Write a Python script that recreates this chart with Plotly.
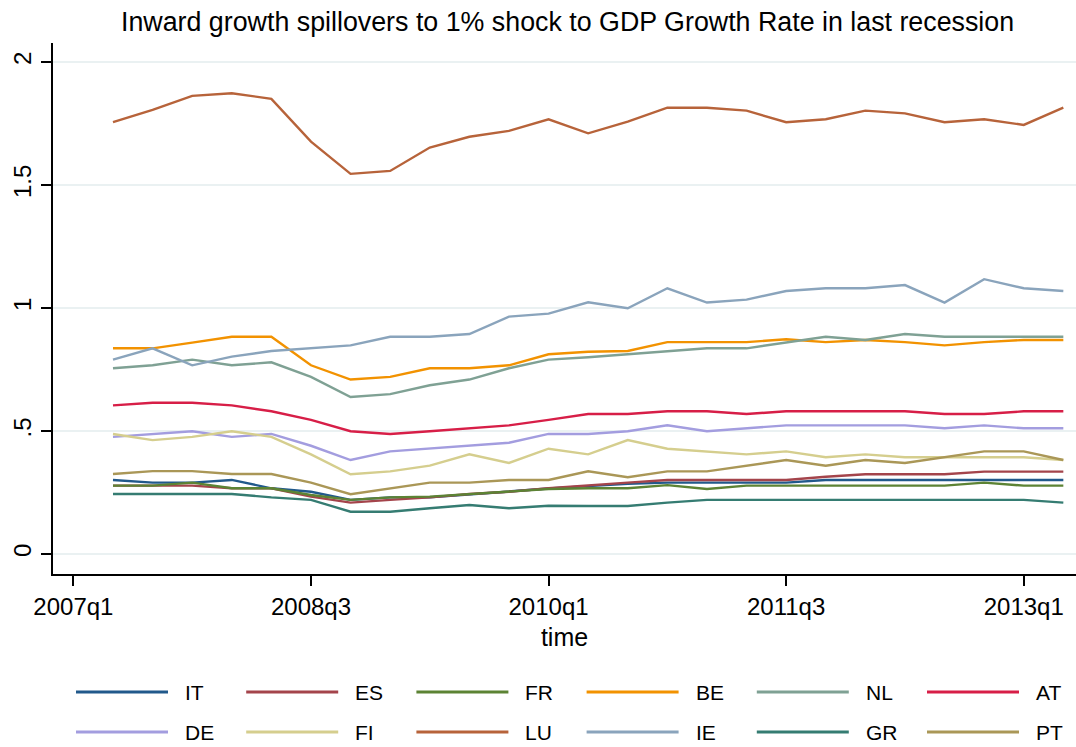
import plotly.graph_objects as go

# Quarter labels (2007q2 .. 2013q2)
quarters = ["2007q2", "2007q3", "2007q4", "2008q1", "2008q2", "2008q3", "2008q4",
            "2009q1", "2009q2", "2009q3", "2009q4", "2010q1", "2010q2", "2010q3",
            "2010q4", "2011q1", "2011q2", "2011q3", "2011q4", "2012q1", "2012q2",
            "2012q3", "2012q4", "2013q1", "2013q2"]

tick_labels = ["2007q1", "2008q3", "2010q1", "2011q3", "2013q1"]
y_ticks = [0, 0.5, 1, 1.5, 2]
y_tick_labels = ["0", ".5", "1", "1.5", "2"]

IT = [0.301, 0.290, 0.290, 0.301, 0.267, 0.253, 0.220, 0.230, 0.230, 0.243, 0.253, 0.266,
      0.276, 0.285, 0.290, 0.290, 0.290, 0.290, 0.301, 0.301, 0.301, 0.301, 0.301, 0.301, 0.301]
ES = [0.278, 0.278, 0.278, 0.267, 0.267, 0.233, 0.209, 0.220, 0.230, 0.244, 0.253, 0.267,
      0.280, 0.290, 0.301, 0.301, 0.301, 0.301, 0.314, 0.324, 0.324, 0.324, 0.335, 0.335, 0.335]
FR = [0.278, 0.278, 0.290, 0.267, 0.267, 0.240, 0.220, 0.230, 0.233, 0.244, 0.253, 0.264,
      0.267, 0.267, 0.280, 0.264, 0.278, 0.278, 0.278, 0.278, 0.278, 0.278, 0.290, 0.278, 0.278]
BE = [0.836, 0.836, 0.859, 0.883, 0.883, 0.767, 0.709, 0.720, 0.755, 0.755, 0.767, 0.812,
      0.822, 0.825, 0.861, 0.861, 0.861, 0.873, 0.861, 0.870, 0.861, 0.848, 0.861, 0.870, 0.870]
NL = [0.755, 0.767, 0.790, 0.767, 0.779, 0.720, 0.638, 0.650, 0.686, 0.709, 0.755, 0.790,
      0.800, 0.813, 0.825, 0.836, 0.836, 0.861, 0.883, 0.870, 0.894, 0.883, 0.883, 0.883, 0.883]
AT = [0.604, 0.615, 0.615, 0.604, 0.580, 0.545, 0.499, 0.488, 0.499, 0.511, 0.523, 0.545,
      0.569, 0.569, 0.580, 0.580, 0.569, 0.580, 0.580, 0.580, 0.580, 0.569, 0.569, 0.580, 0.580]
DE = [0.476, 0.488, 0.499, 0.476, 0.488, 0.440, 0.382, 0.417, 0.428, 0.440, 0.452, 0.488,
      0.488, 0.499, 0.523, 0.499, 0.511, 0.523, 0.523, 0.523, 0.523, 0.511, 0.523, 0.511, 0.511]
FI = [0.488, 0.463, 0.476, 0.499, 0.476, 0.405, 0.324, 0.336, 0.359, 0.405, 0.370, 0.428,
      0.405, 0.463, 0.428, 0.417, 0.405, 0.417, 0.393, 0.405, 0.393, 0.393, 0.393, 0.393, 0.382]
LU = [1.755, 1.805, 1.862, 1.873, 1.850, 1.676, 1.545, 1.557, 1.652, 1.696, 1.720, 1.767,
      1.710, 1.757, 1.814, 1.814, 1.802, 1.755, 1.767, 1.802, 1.791, 1.755, 1.767, 1.744, 1.814]
IE = [0.790, 0.836, 0.767, 0.802, 0.825, 0.836, 0.848, 0.883, 0.883, 0.894, 0.965, 0.977,
      1.023, 0.999, 1.080, 1.022, 1.034, 1.069, 1.080, 1.080, 1.093, 1.022, 1.117, 1.080, 1.069]
GR = [0.244, 0.244, 0.244, 0.244, 0.230, 0.220, 0.172, 0.172, 0.186, 0.199, 0.186, 0.196,
      0.195, 0.195, 0.209, 0.220, 0.220, 0.220, 0.220, 0.220, 0.220, 0.220, 0.220, 0.220, 0.209]
PT = [0.325, 0.337, 0.337, 0.325, 0.325, 0.290, 0.243, 0.267, 0.290, 0.290, 0.301, 0.301,
      0.336, 0.312, 0.336, 0.336, 0.359, 0.382, 0.359, 0.382, 0.370, 0.393, 0.417, 0.417, 0.382]

series_names = ["IT", "ES", "FR", "BE", "NL", "AT", "DE", "FI", "LU", "IE", "GR", "PT"]
series_values = [IT, ES, FR, BE, NL, AT, DE, FI, LU, IE, GR, PT]
colors = ["#21598b", "#a4444b", "#5c8334", "#f29200", "#7fa194", "#d71e47",
          "#a39ddf", "#d5ce8e", "#b7633a", "#8aa4bc", "#357c72", "#aa9757"]


def qindex(label):
    y, q = label.split("q")
    return (int(y) - 2007) * 4 + int(q) - 1


x_vals = [qindex(q) for q in quarters]
tick_vals = [qindex(t) for t in tick_labels]

FONT = "Liberation Sans, Arial, Helvetica, sans-serif"

fig = go.Figure()
for name, vals, col in zip(series_names, series_values, colors):
    fig.add_trace(go.Scatter(x=x_vals, y=vals, mode="lines", name=name,
                             line=dict(color=col, width=2.4), showlegend=False,
                             hoverinfo="skip"))

# Plot area geometry (pixels) for the manual Stata-style legend
W, H = 1076, 747
L, R, T, B = 53, 0, 43, 173
pw, ph = W - L - R, H - T - B


def px_to_paper_x(px):
    return (px - L) / pw


def py_to_paper_y(py):
    return (H - B - py) / ph


shapes = []
annotations = []
for k, (name, col) in enumerate(zip(series_names, colors)):
    row, colm = divmod(k, 6)
    x0 = 76 + 170.2 * colm
    yc = 692 + 40 * row
    shapes.append(dict(type="line", xref="paper", yref="paper",
                       x0=px_to_paper_x(x0), x1=px_to_paper_x(x0 + 92),
                       y0=py_to_paper_y(yc), y1=py_to_paper_y(yc),
                       line=dict(color=col, width=2.8)))
    annotations.append(dict(xref="paper", yref="paper", x=px_to_paper_x(x0 + 107),
                            y=py_to_paper_y(yc), text=name, showarrow=False,
                            xanchor="left", yanchor="middle",
                            font=dict(family=FONT, size=21, color="black")))

fig.update_layout(
    width=W, height=H,
    margin=dict(l=L, r=R, t=T, b=B, autoexpand=False),
    paper_bgcolor="white", plot_bgcolor="white",
    font=dict(family=FONT, color="black"),
    title=dict(text="Inward growth spillovers to 1% shock to GDP Growth Rate in last recession",
               x=0.503, xref="paper", xanchor="center",
               y=1 - 22 / H, yref="container", yanchor="middle",
               font=dict(family=FONT, size=26.8, color="black")),
    xaxis=dict(range=[-0.515, 25.32], tickmode="array", tickvals=tick_vals,
               ticktext=tick_labels, showgrid=False, zeroline=False,
               showline=True, linecolor="black", linewidth=2,
               ticks="outside", ticklen=10, tickwidth=2, tickcolor="black",
               tickfont=dict(family=FONT, size=24, color="black"),
               title=dict(text="time", standoff=10,
                          font=dict(family=FONT, size=25, color="black")),
               automargin=False),
    yaxis=dict(range=[-0.0813, 2.077], tickmode="array", tickvals=y_ticks,
               ticktext=y_tick_labels, tickangle=-90,
               showgrid=True, gridcolor="#eaf1f2", gridwidth=2, zeroline=False,
               showline=True, linecolor="black", linewidth=2,
               ticks="outside", ticklen=10, tickwidth=2, tickcolor="black",
               tickfont=dict(family=FONT, size=24, color="black"),
               automargin=False),
    shapes=shapes,
    annotations=annotations,
    showlegend=False,
    hovermode=False,
)

fig.write_html("out.html", config={"displayModeBar": False, "staticPlot": True},
               post_script="document.body.style.margin='0';document.body.style.padding='0';")
